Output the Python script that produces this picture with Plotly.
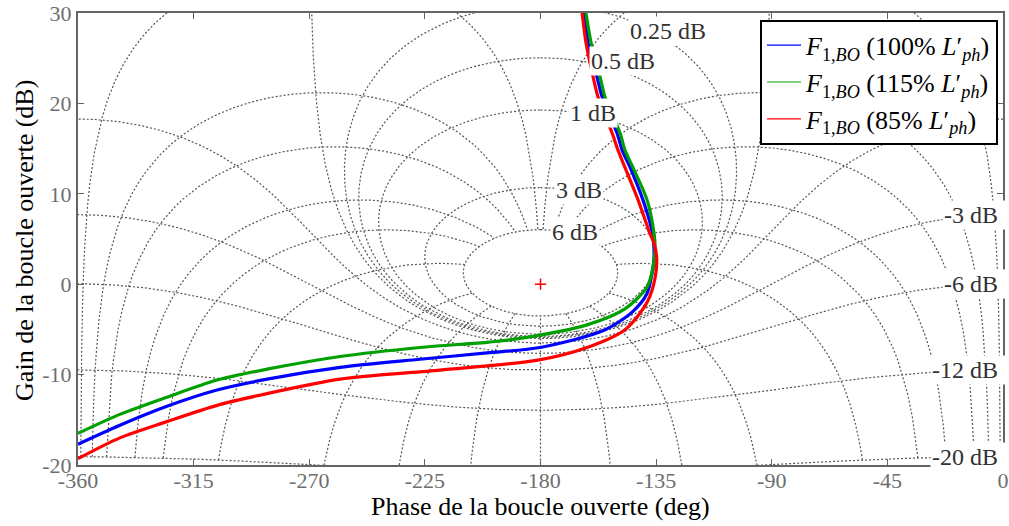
import numpy as np
import plotly.graph_objects as go

# ---------------- data ----------------
phase_ticks = [-360, -315, -270, -225, -180, -135, -90, -45, 0]
gain_ticks = [-20, -10, 0, 10, 20, 30]

# Nichols grid levels (closed-loop gain in dB, closed-loop phase in deg)
m_levels_db = [6, 3, 1, 0.5, 0.25, 0, -1, -3, -6, -12, -20]
n_levels_deg = [1, 5, 10, 20, 30, 50, 90, 120, 150, 180]
label_pos_db = [0.25, 0.5, 1, 3, 6]
label_neg_db = [-3, -6, -12, -20]

# open-loop curves (phase deg, gain dB)
blue_phase = [-360, -343.7, -325.4, -305.9, -286.4, -258.0, -226.9, -200.8, -180.2, -155.3,
              -144.0, -138.5, -136.6, -135.8, -136.4, -140.1, -145.1, -148.2, -150.2, -156.0,
              -158.0, -161.5, -163.0, -163.4]
blue_gain = [-17.7, -15.6, -13.5, -11.7, -10.5, -9.2, -8.3, -7.6, -7.0, -5.1,
             -3.0, -1.0, 1.2, 3.0, 5.6, 9.3, 12.9, 14.8, 16.7, 20.7,
             22.9, 26.7, 30.0, 31.0]

green_phase = [-360, -343.7, -325.4, -305.9, -286.4, -258.0, -226.9, -200.0, -188.0, -161.9,
               -147.0, -138.5, -136.2, -135.4, -135.8, -138.5, -144.0, -147.1, -149.0, -154.9,
               -156.8, -160.3, -162.3, -162.8]
green_gain = [-16.5, -14.4, -12.5, -10.6, -9.4, -8.0, -7.0, -6.4, -6.0, -4.5,
              -2.7, -0.3, 1.9, 4.0, 5.6, 9.3, 12.9, 14.8, 16.7, 20.7,
              22.9, 26.7, 30.0, 31.0]

red_phase = [-360, -343.7, -325.4, -305.9, -286.4, -258.0, -219.1, -181.0, -161.9, -147.0,
             -138.5, -135.4, -134.8, -135.8, -137.4, -142.0, -147.1, -149.8, -152.1, -157.6,
             -159.5, -162.3, -163.8, -164.3]
red_gain = [-19.3, -17.0, -15.2, -13.4, -12.1, -10.5, -9.5, -8.4, -7.0, -5.0,
            -2.0, 0.7, 3.0, 4.5, 5.6, 9.3, 12.9, 14.8, 16.7, 20.7,
            22.9, 26.7, 30.0, 31.0]

crit_phase = [-180]
crit_gain = [0]

series = [
    ("<i>F</i><sub>1,<i>BO</i></sub> (100% <i>L</i>′<sub><i>ph</i></sub>)", blue_phase, blue_gain, "rgb(0,0,255)"),
    ("<i>F</i><sub>1,<i>BO</i></sub> (115% <i>L</i>′<sub><i>ph</i></sub>)", green_phase, green_gain, "rgb(0,160,0)"),
    ("<i>F</i><sub>1,<i>BO</i></sub> (85% <i>L</i>′<sub><i>ph</i></sub>)", red_phase, red_gain, "rgb(255,0,0)"),
]

FONT = "Liberation Serif"

# ---------------- Nichols grid ----------------
def m_contour(mdb):
    M = 10 ** (mdb / 20)
    if abs(M - 1) < 1e-9:
        th = np.linspace(1e-3, 2 * np.pi - 1e-3, 3000)
    else:
        th = np.linspace(0, 2 * np.pi, 3000)
    T = M * np.exp(-1j * th)
    G = T / (1 - T)
    gain = 20 * np.log10(np.abs(G))
    if M < 1:
        ph = np.degrees(np.unwrap(np.angle(G)))
    else:
        ph = np.mod(np.degrees(np.angle(G)), 360) - 360
    return ph, gain


def n_line(psi, sign):
    mdb = np.linspace(-20, 6, 6000)
    m = 10 ** (mdb / 20)
    T = m * np.exp(1j * np.radians(sign * psi))
    G = T / (1 - T)
    ph = np.degrees(np.angle(G))
    if psi == 180:
        ph = np.full_like(ph, -180.0)
    elif sign > 0:
        ph = ph - 360
    return ph, 20 * np.log10(np.abs(G))


gx, gy = [], []
for lv in m_levels_db:
    p, g = m_contour(lv)
    gx += list(p) + [None]
    gy += list(g) + [None]
for psi in n_levels_deg:
    signs = [1] if psi == 180 else [1, -1]
    for s in signs:
        p, g = n_line(psi, s)
        gx += list(p) + [None]
        gy += list(g) + [None]

fig = go.Figure()
fig.add_trace(go.Scatter(x=gx, y=gy, mode="lines", showlegend=False, hoverinfo="skip",
                         line=dict(color="rgb(85,85,85)", width=1.2, dash="2px,2px")))

for name, px, py, col in series:
    fig.add_trace(go.Scatter(x=px, y=py, mode="lines", showlegend=False,
                             line=dict(color=col, width=3.2, shape="spline", smoothing=0.8)))
for name, px, py, col in series:
    fig.add_trace(go.Scatter(x=[None], y=[None], mode="lines", name=name,
                             line=dict(color=col, width=1.2)))

fig.add_trace(go.Scatter(x=crit_phase, y=crit_gain, mode="markers", showlegend=False,
                         marker=dict(symbol="cross-thin", size=8,
                                     line=dict(color="red", width=1.5))))

# ---------------- grid labels ----------------
annots = []
pos_x = {0.25: -130.3, 0.5: -147.9, 1: -159.5, 3: -165.0, 6: -166.5}
for lv in label_pos_db:
    M = 10 ** (lv / 20)
    y = min(20 * np.log10(M / (M - 1)) - 0.3, 28.0)
    annots.append(dict(x=pos_x[lv], y=y, xref="x", yref="y", text=f"{lv:g} dB",
                       showarrow=False, bgcolor="white", borderpad=1,
                       font=dict(family=FONT, size=24, color="rgb(50,50,50)")))
for lv in label_neg_db:
    M = 10 ** (lv / 20)
    y = 20 * np.log10(M / (1 - M))
    annots.append(dict(x=0, y=y, xref="x", yref="y", text=f"{lv:g} dB\u00a0",
                       xanchor="right", xshift=3, showarrow=False, bgcolor="white",
                       borderpad=1, font=dict(family=FONT, size=24, color="rgb(50,50,50)")))

# axis titles
annots.append(dict(x=0.5, y=-0.0925, xref="paper", yref="paper", showarrow=False,
                   text="Phase de la boucle ouverte (deg)", xanchor="center", yanchor="middle",
                   font=dict(family=FONT, size=26, color="black")))
annots.append(dict(x=-0.0573, y=0.498, xref="paper", yref="paper", showarrow=False,
                   text="Gain de la boucle ouverte (dB)", textangle=-90,
                   xanchor="center", yanchor="middle",
                   font=dict(family=FONT, size=26, color="black")))

fig.update_layout(
    width=1009, height=526,
    margin=dict(l=78, r=6, t=13, b=61, autoexpand=False),
    paper_bgcolor="white", plot_bgcolor="white",
    font=dict(family=FONT, size=22, color="black"),
    annotations=annots,
    legend=dict(x=0.9946, y=0.985, xanchor="right", yanchor="top",
                bgcolor="white", bordercolor="black", borderwidth=2,
                font=dict(family=FONT, size=26, color="black"),
                itemwidth=34, tracegroupgap=0),
)
fig.update_xaxes(range=[-360, 0], tickvals=phase_ticks, ticktext=[str(v) for v in phase_ticks],
                 ticks="inside", ticklen=6, tickcolor="rgb(100,100,100)", mirror="ticks",
                 showline=True, linecolor="rgb(100,100,100)", linewidth=2,
                 showgrid=False, zeroline=False, automargin=False, ticklabelstandoff=-5,
                 tickfont=dict(family=FONT, size=22, color="rgb(110,110,110)"))
fig.update_yaxes(range=[-20, 30], tickvals=gain_ticks, ticktext=[str(v) for v in gain_ticks],
                 ticks="inside", ticklen=6, tickcolor="rgb(100,100,100)", mirror="ticks",
                 showline=True, linecolor="rgb(100,100,100)", linewidth=2,
                 showgrid=False, zeroline=False, automargin=False,
                 tickfont=dict(family=FONT, size=22, color="rgb(110,110,110)"))

fig.write_html("out.html", config={"displayModeBar": False},
               post_script="document.body.style.margin='0px';document.body.style.overflow='hidden';")
